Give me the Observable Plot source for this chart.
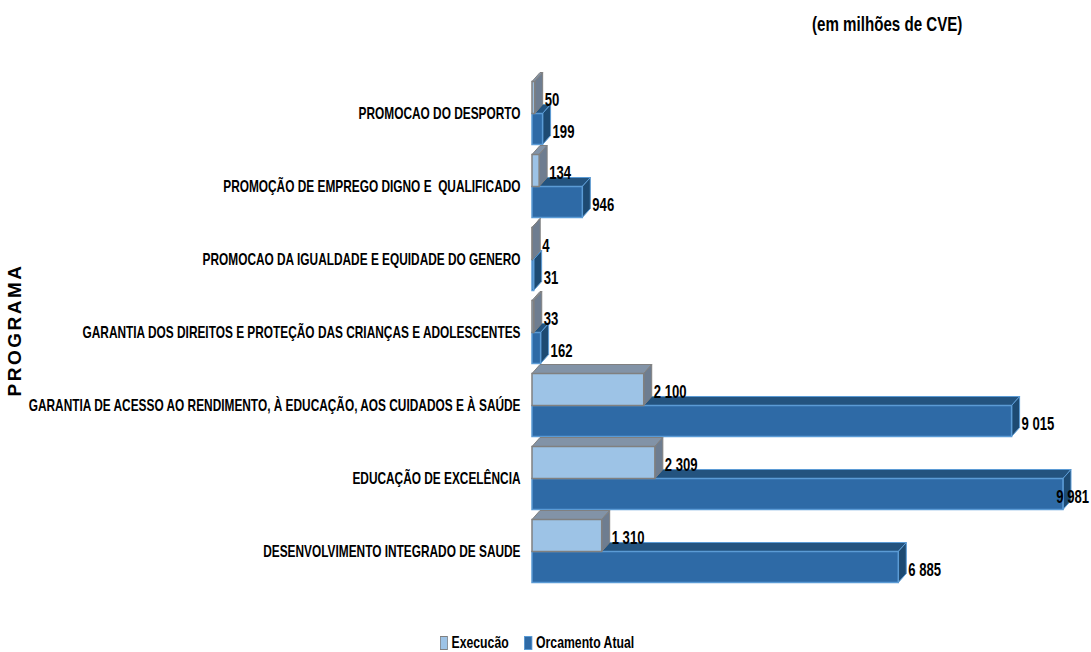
<!DOCTYPE html>
<html>
<head>
<meta charset="utf-8">
<script src="https://cdn.jsdelivr.net/npm/d3@7"></script>
<script src="https://cdn.jsdelivr.net/npm/@observablehq/plot@0.6"></script>
<style>
  html, body { margin: 0; padding: 0; background: #fff; }
  body { width: 1091px; height: 652px; position: relative; overflow: hidden;
         font-family: "Liberation Sans", Arial, sans-serif; font-weight: bold; color: #000; }
  #title { position: absolute; left: 812px; top: 12px; font-size: 21px; white-space: nowrap;
           transform: scaleX(0.72); transform-origin: left top; z-index: 2; }
  #ylabel { position: absolute; left: 15px; top: 330px; transform: translate(-50%, -50%) rotate(-90deg);
            font-size: 19px; letter-spacing: 2.5px; white-space: nowrap; z-index: 2; }
  #chart { position: absolute; left: 0; top: 55px; z-index: 1; }
  #legend { position: absolute; left: 440px; top: 633px; font-size: 17px; display: flex; align-items: center;
            white-space: nowrap; transform: scaleX(0.72); transform-origin: left top; z-index: 2; }
  .sw { display: inline-block; width: 9px; height: 12px; margin-right: 5px; border: 1px solid; }
  .item { display: flex; align-items: center; margin-right: 22px; }
</style>
</head>
<body>
<div id="title">(em milhões de CVE)</div>
<div id="ylabel">PROGRAMA</div>
<div id="chart"></div>
<div id="legend"></div>
<script>
const categories = [
  "PROMOCAO DO DESPORTO",
  "PROMOÇÃO DE EMPREGO DIGNO E  QUALIFICADO",
  "PROMOCAO DA IGUALDADE E EQUIDADE DO GENERO",
  "GARANTIA DOS DIREITOS E PROTEÇÃO DAS CRIANÇAS E ADOLESCENTES",
  "GARANTIA DE ACESSO AO RENDIMENTO, À EDUCAÇÃO, AOS CUIDADOS E À SAÚDE",
  "EDUCAÇÃO DE EXCELÊNCIA",
  "DESENVOLVIMENTO INTEGRADO DE SAUDE"
];
const execucao  = [50, 134, 4, 33, 2100, 2309, 1310];
const orcamento = [199, 946, 31, 162, 9015, 9981, 6885];
const seriesNames = ["Execucão", "Orcamento Atual"];

const data = categories.map((c, i) => ({programa: c, execucao: execucao[i], orcamento: orcamento[i]}));

const style = {
  execucao:  {front: "#9dc3e6", stroke: "#808080", top: "#8293a7", side: "#6e7d90"},
  orcamento: {front: "#2e6aa6", stroke: "#5b9bd5", top: "#23537f", side: "#1d4a72"}
};
const DX = 8, DY = 9;
const FONT = '"Liberation Sans", Arial, sans-serif';
const VALUE_SQUEEZE = 0.69, TICK_SQUEEZE = 0.72;
const fmt = v => d3.format(",")(v).replace(/,/g, " ");

function barExtent(key, yc) {
  return key === "execucao" ? [yc - 32, yc] : [yc, yc + 31];
}

function faces(key) {
  return (index, scales, values, dimensions) => {
    const g = d3.create("svg:g");
    const bw = scales.y.bandwidth ? scales.y.bandwidth() : 73;
    const s = style[key];
    data.forEach(d => {
      const x0 = scales.x(0), x1 = scales.x(d[key]);
      const yc = scales.y(d.programa) + bw / 2;
      const [t, b] = barExtent(key, yc);
      g.append("path")
        .attr("d", `M${x0},${t}L${x1},${t}L${x1 + DX},${t - DY}L${x0 + DX},${t - DY}Z`)
        .attr("fill", s.top).attr("stroke", s.stroke).attr("stroke-width", 1);
      g.append("path")
        .attr("d", `M${x1},${t}L${x1 + DX},${t - DY}L${x1 + DX},${b - DY}L${x1},${b}Z`)
        .attr("fill", s.side).attr("stroke", s.stroke).attr("stroke-width", 1);
    });
    return g.node();
  };
}

function labels(index, scales, values, dimensions) {
  const g = d3.create("svg:g")
    .attr("class", "vlabels")
    .attr("font-size", 19).attr("font-weight", "bold")
    .attr("font-family", FONT);
  const bw = scales.y.bandwidth ? scales.y.bandwidth() : 73;
  data.forEach(d => {
    const yc = scales.y(d.programa) + bw / 2;
    [["execucao", -14], ["orcamento", 17.5]].forEach(([key, off]) => {
      const v = d[key];
      const txt = fmt(v);
      let x = scales.x(v) + DX + 2;
      let anchor = "start";
      if (x + txt.length * 7 > dimensions.width - 2) { x = dimensions.width - 2; anchor = "end"; }
      g.append("text")
        .attr("transform", `translate(${x},${yc + off}) scale(${VALUE_SQUEEZE},1)`)
        .attr("dy", "0.35em")
        .attr("text-anchor", anchor).attr("fill", "#000").text(txt);
    });
  });
  return g.node();
}

const chart = Plot.plot({
  width: 1091,
  height: 560,
  marginLeft: 532,
  marginRight: 27,
  marginTop: 21.5,
  marginBottom: 27.5,
  style: {fontFamily: FONT, fontSize: "16.5px", fontWeight: "bold", color: "#000", background: "transparent", overflow: "visible"},
  x: {domain: [0, 10000], axis: null},
  y: {domain: categories, padding: 0, label: null, tickSize: 0, tickPadding: 12},
  marks: [
    faces("orcamento"),
    Plot.barX(data, {x: "orcamento", y: "programa", insetTop: 36.5, insetBottom: 5.5,
      fill: style.orcamento.front, stroke: style.orcamento.stroke, strokeWidth: 1.5}),
    faces("execucao"),
    Plot.barX(data, {x: "execucao", y: "programa", insetTop: 4.5, insetBottom: 36.5,
      fill: style.execucao.front, stroke: style.execucao.stroke, strokeWidth: 1.5}),
    labels
  ]
});
document.getElementById("chart").appendChild(chart);

// Condense the category tick labels horizontally around their right edge
// (the reference uses a narrow typeface)
chart.querySelectorAll("text").forEach(t => {
  if (t.closest(".vlabels")) return;
  const bb = t.getBBox();
  if (!bb.width) return;
  const anchor = getComputedStyle(t).textAnchor || t.getAttribute("text-anchor") || "start";
  const ax = anchor === "end" ? bb.x + bb.width : anchor === "middle" ? bb.x + bb.width / 2 : bb.x;
  const prev = t.getAttribute("transform") || "";
  t.setAttribute("transform", `${prev} translate(${ax},0) scale(${TICK_SQUEEZE},1) translate(${-ax},0)`.trim());
});

const legend = document.getElementById("legend");
[["execucao", seriesNames[0]], ["orcamento", seriesNames[1]]].forEach(([key, name]) => {
  const item = document.createElement("div");
  item.className = "item";
  const sw = document.createElement("span");
  sw.className = "sw";
  sw.style.background = style[key].front;
  sw.style.borderColor = style[key].stroke;
  item.appendChild(sw);
  item.appendChild(document.createTextNode(name));
  legend.appendChild(item);
});
</script>
</body>
</html>
